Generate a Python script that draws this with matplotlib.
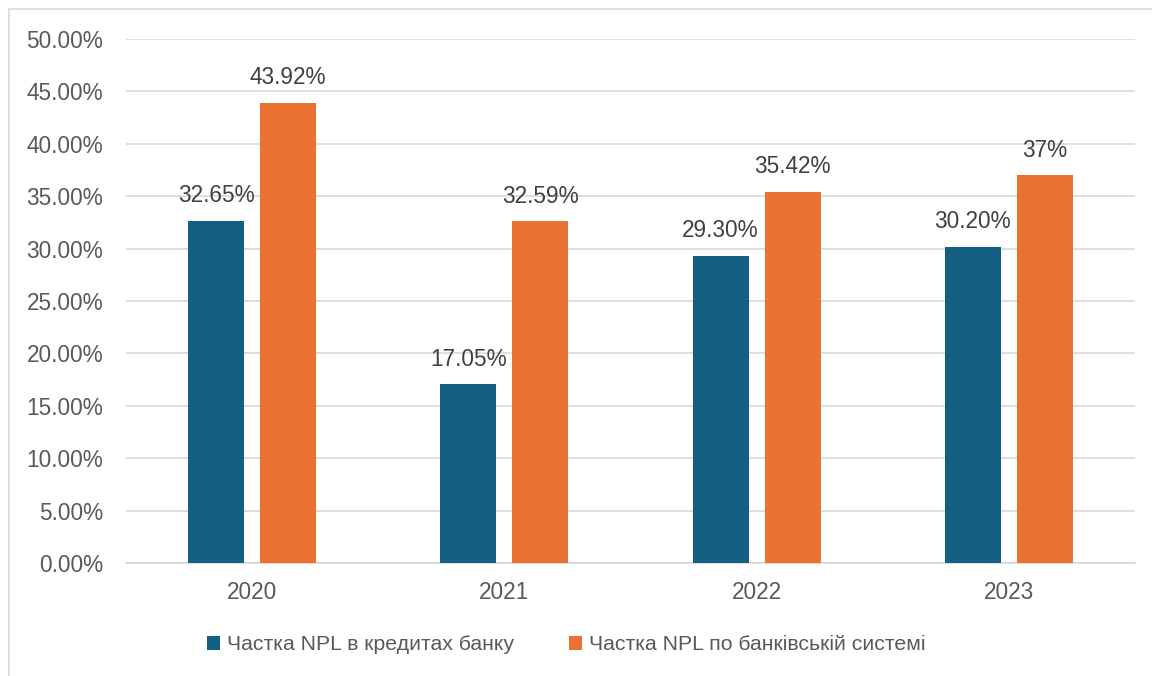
import matplotlib.pyplot as plt
import numpy as np
from matplotlib.patches import Rectangle
from matplotlib.ticker import PercentFormatter

plt.rcParams['font.family'] = ['Liberation Sans', 'DejaVu Sans']

years = ['2020', '2021', '2022', '2023']
bank_npl = [32.65, 17.05, 29.30, 30.20]
system_npl = [43.92, 32.59, 35.42, 37.00]
bank_labels = ['32.65%', '17.05%', '29.30%', '30.20%']
system_labels = ['43.92%', '32.59%', '35.42%', '37%']
series_names = ['Частка NPL в кредитах банку', 'Частка NPL по банківській системі']

blue = '#156082'
orange = '#E97132'
grid_col = '#d9d9d9'
text_col = '#595959'
fs = 16.3

fig = plt.figure(figsize=(11.52, 6.76), dpi=100)
ax = fig.add_axes([126 / 1152, 1 - 563 / 676, 1009 / 1152, 524 / 676])

# light frame around the chart area
fig.patches.append(Rectangle((8.5 / 1152, -0.1), 1.2, 1.1 - 9.5 / 676,
                             transform=fig.transFigure, fill=False,
                             edgecolor=grid_col, linewidth=1.2))

x = np.arange(len(years))
w = 0.222
off = 0.143
b1 = ax.bar(x - off, bank_npl, w, color=blue, label=series_names[0], zorder=3)
b2 = ax.bar(x + off, system_npl, w, color=orange, label=series_names[1], zorder=3)

for bars, labels in ((b1, bank_labels), (b2, system_labels)):
    for rect, lab in zip(bars, labels):
        ax.annotate(lab, (rect.get_x() + rect.get_width() / 2, rect.get_height()),
                    xytext=(0, 18), textcoords='offset points',
                    ha='center', va='center', fontsize=fs, color='#404040')

ax.set_xlim(-0.5, 3.5)
ax.set_ylim(0, 50)
ax.set_yticks(np.arange(0, 51, 5))
ax.yaxis.set_major_formatter(PercentFormatter(decimals=2))
ax.set_xticks(x)
ax.set_xticklabels(years)
ax.grid(axis='y', color=grid_col, linewidth=1.2, zorder=0)
ax.set_axisbelow(True)
for s in ['top', 'right', 'left']:
    ax.spines[s].set_visible(False)
ax.spines['bottom'].set_color(grid_col)
ax.spines['bottom'].set_linewidth(1.2)
ax.tick_params(axis='both', length=0, labelsize=fs, labelcolor=text_col)
ax.tick_params(axis='y', pad=16.5)
ax.tick_params(axis='x', pad=13)

fig.legend(handles=[b1, b2], loc='center', bbox_to_anchor=(566 / 1152, 1 - 645 / 676),
           ncol=2, frameon=False, fontsize=15.3, labelcolor=text_col,
           handlelength=0.61, handleheight=0.61, handletextpad=0.33, columnspacing=2.6)

fig.savefig('out.png', dpi=100)
